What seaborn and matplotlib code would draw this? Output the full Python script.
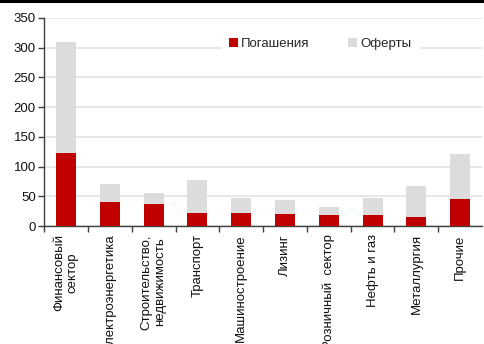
import matplotlib
matplotlib.use("Agg")
import matplotlib.pyplot as plt
from matplotlib.patches import Patch
from matplotlib.lines import Line2D
from matplotlib.ticker import FixedLocator
import seaborn as sns
import pandas as pd

# Debt maturities by sector
sectors = [
    "Финансовый\nсектор",
    "Электроэнергетика",
    "Строительство,\nнедвижимость",
    "Транспорт",
    "Машиностроение",
    "Лизинг",
    "Розничный  сектор",
    "Нефть и газ",
    "Металлургия",
    "Прочие",
]
redemptions = [122, 41, 37, 22, 22, 20, 18, 18, 15, 45]
offers = [188, 30, 19, 55, 25, 24, 14, 29, 52, 76]
y_ticks = [0, 50, 100, 150, 200, 250, 300, 350]

RED = "#C00000"
GRAY = "#DCDCDC"

df = pd.DataFrame({"sector": sectors, "redemptions": redemptions, "offers": offers})
df["total"] = df["redemptions"] + df["offers"]

sns.set_theme(style="white")
plt.rcParams["font.family"] = ["Liberation Sans", "DejaVu Sans"]
plt.rcParams["font.size"] = 9

fig = plt.figure(figsize=(4.85, 3.44), dpi=100)
ax = fig.add_axes([0.091, 0.343, 0.903, 0.605])

# stacked bars: total in gray, redemptions in red on top of it
sns.barplot(data=df, x="sector", y="total", color=GRAY, width=0.46,
            saturation=1, ax=ax, zorder=2, edgecolor="none", linewidth=0)
sns.barplot(data=df, x="sector", y="redemptions", color=RED, width=0.46,
            saturation=1, ax=ax, zorder=3, edgecolor="none", linewidth=0)

ax.set_xlim(-0.5, len(sectors) - 0.5)
ax.set_ylim(0, 350)
ax.set_yticks(y_ticks)
ax.set_xlabel("")
ax.set_ylabel("")
ax.yaxis.grid(True, color="#E3E3E3", lw=1.2, zorder=0)
ax.set_axisbelow(True)

for s in ["top", "right"]:
    ax.spines[s].set_visible(False)
for s in ["left", "bottom"]:
    ax.spines[s].set_color("#404040")
    ax.spines[s].set_linewidth(1.0)

ax.tick_params(axis="y", which="major", left=True, length=4, width=1,
               color="#404040", labelsize=9.5, labelcolor="#111111", pad=2)
ax.tick_params(axis="x", which="major", bottom=False, length=0, pad=6)
ax.xaxis.set_minor_locator(FixedLocator([i - 0.5 for i in range(len(sectors))]))
ax.tick_params(axis="x", which="minor", bottom=True, length=4, width=1,
               color="#404040")

ax.set_xticks(range(len(sectors)))
ax.set_xticklabels(sectors, rotation=90, ha="center", va="top",
                   multialignment="center", fontsize=9.5, color="#111111")

handles = [Patch(facecolor=RED, edgecolor="none", label="Погашения"),
           Patch(facecolor=GRAY, edgecolor="none", label="Оферты")]
leg = ax.legend(handles=handles, loc="center left", bbox_to_anchor=(0.405, 0.875),
                ncol=2, frameon=True, fancybox=False, framealpha=1,
                edgecolor="white", facecolor="white", fontsize=9.5,
                handlelength=0.65, handleheight=0.65, handletextpad=0.25,
                columnspacing=2.9, borderpad=0.6, borderaxespad=0)
leg.set_zorder(5)

fig.add_artist(Line2D([0, 1], [0.996, 0.996], color="black", lw=2.2,
                      transform=fig.transFigure))

fig.savefig("out.png", dpi=100, facecolor="white")
